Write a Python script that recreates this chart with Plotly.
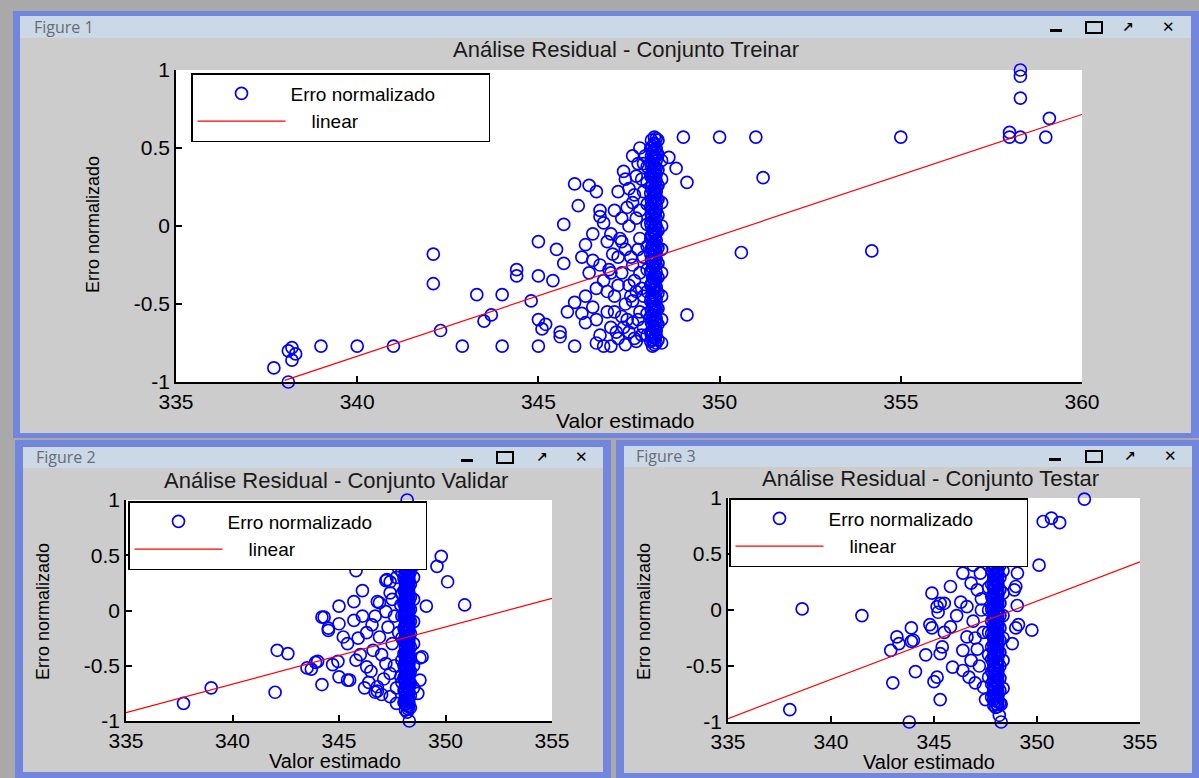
import plotly.graph_objects as go

W, H = 1199, 778

# ------------------------------------------------------------------ data
# Figure 1 - Conjunto Treinar
treinar_outer_x = [338.1, 337.7, 338.2, 338.1, 338.2, 338.3, 339.0, 340.0, 341.0, 342.1,
                   342.1, 342.3, 342.9, 343.3, 343.7, 343.5, 344.0, 344.0, 344.4, 344.4,
                   344.8, 345.0, 345.5, 345.7, 345.0, 345.4, 345.0, 345.1, 345.2, 345.0,
                   345.6, 345.6, 346.0, 345.8, 346.0, 346.0, 346.4, 346.6, 346.1, 345.7,
                   346.7, 346.7, 346.3, 348.2, 349.0, 350.0, 351.0, 348.8, 349.1, 348.6,
                   351.2, 350.6, 354.2, 355.0, 358.3, 358.3, 358.3, 359.1, 358.0, 358.0,
                   358.3, 359.0, 349.1, 347.0]
treinar_outer_y = [-1.00, -0.91, -0.78, -0.80, -0.86, -0.82, -0.77, -0.77, -0.77, -0.18,
                   -0.37, -0.67, -0.77, -0.44, -0.57, -0.61, -0.44, -0.77, -0.28, -0.32,
                   -0.48, -0.10, -0.15, -0.24, -0.32, -0.35, -0.60, -0.66, -0.63, -0.77,
                   -0.71, -0.68, -0.77, -0.55, -0.49, 0.27, 0.26, 0.22, 0.13, 0.01,
                   0.10, 0.06, -0.12, 0.57, 0.57, 0.57, 0.57, 0.37, 0.28, 0.44,
                   0.31, -0.17, -0.16, 0.57, 1.00, 0.96, 0.82, 0.69, 0.60, 0.57,
                   0.57, 0.57, -0.57, -0.77]
treinar_cluster_x = [346.3, 346.5, 346.6, 346.4, 346.7, 346.8, 346.6, 346.9, 346.7, 347.0,
                     346.9, 347.0, 346.8, 347.1, 347.2, 347.3, 347.1, 347.3, 347.2, 347.4,
                     347.5, 347.4, 347.5, 347.4, 347.5, 347.6, 347.5, 347.7, 347.6, 347.7,
                     347.6, 347.7, 347.8, 347.8, 347.8, 347.8, 347.9, 347.9, 347.9, 347.9,
                     347.9, 346.2, 346.5, 346.5, 346.3, 346.2, 346.8, 347.0, 347.2, 347.3,
                     347.6, 347.8, 347.3, 347.1, 346.9, 347.4, 347.6, 347.7, 347.2, 346.6,
                     347.45, 347.55, 347.65, 347.75, 347.85, 347.85, 347.65, 347.75, 347.55, 347.35,
                     347.25, 347.45, 347.85, 347.95, 347.05, 346.95, 347.15, 347.65, 347.35, 347.75]
treinar_cluster_y = [-0.45, -0.52, -0.40, -0.30, -0.25, -0.35, -0.60, -0.55, -0.70, -0.65,
                     -0.10, -0.05, 0.02, 0.10, -0.20, -0.30, -0.45, -0.58, -0.72, -0.76,
                     -0.68, -0.50, -0.38, -0.15, 0.00, 0.15, 0.24, 0.32, -0.25, -0.42,
                     -0.62, -0.74, -0.55, -0.30, -0.08, 0.10, 0.22, 0.40, -0.65, -0.20,
                     -0.45, -0.20, -0.05, -0.22, -0.62, -0.56, -0.77, -0.30, 0.22, 0.05,
                     0.45, 0.50, -0.10, -0.55, -0.42, 0.30, -0.48, 0.05, -0.38, -0.75,
                     -0.60, -0.20, -0.35, -0.60, -0.70, -0.40, 0.20, 0.40, -0.45, -0.65,
                     -0.08, 0.12, 0.30, 0.45, -0.18, -0.28, -0.68, -0.72, 0.35, -0.15]
treinar_column_x = [348.0, 348.1, 348.12, 348.15, 348.2, 348.22, 348.25, 348.3, 348.4]
treinar_column_y = [
    [-0.70, -0.56, -0.42, -0.28, -0.13, 0.01, 0.14, 0.28, 0.38],
    [-0.74, -0.68, -0.58, -0.48, -0.38, -0.29, -0.18, -0.08, 0.02, 0.12, 0.21, 0.32, 0.41, 0.50],
    [-0.70, -0.62, -0.54, -0.46, -0.37, -0.30, -0.22, -0.14, -0.06, 0.00, 0.07, 0.16, 0.25,
     0.33, 0.38, 0.45, 0.55],
    [-0.77, -0.73, -0.69, -0.64, -0.60, -0.57, -0.52, -0.49, -0.44, -0.41, -0.36, -0.33, -0.27,
     -0.24, -0.19, -0.15, -0.12, -0.06, -0.03, 0.03, 0.06, 0.11, 0.14, 0.18, 0.23, 0.27, 0.31,
     0.35, 0.40, 0.43, 0.47, 0.51],
    [-0.76, -0.71, -0.65, -0.61, -0.55, -0.50, -0.46, -0.40, -0.35, -0.31, -0.26, -0.20, -0.16, -0.11,
     -0.05, -0.01, 0.04, 0.09, 0.15, 0.19, 0.24, 0.30, 0.34, 0.39, 0.45, 0.49, 0.53],
    [-0.72, -0.66, -0.60, -0.53, -0.45, -0.38, -0.32, -0.23, -0.15, -0.07, 0.01, 0.08, 0.16,
     0.21, 0.28, 0.36, 0.44, 0.52],
    [-0.75, -0.70, -0.67, -0.62, -0.59, -0.54, -0.51, -0.47, -0.42, -0.39, -0.34, -0.30, -0.25,
     -0.21, -0.17, -0.13, -0.09, -0.04, 0.00, 0.05, 0.10, 0.13, 0.17, 0.22, 0.25, 0.29, 0.33,
     0.37, 0.42, 0.47, 0.50, 0.56],
    [-0.73, -0.63, -0.53, -0.43, -0.33, -0.24, -0.14, -0.03, 0.07, 0.17, 0.26, 0.36, 0.46, 0.55],
    [-0.75, -0.60, -0.45, -0.30, -0.15, 0.00, 0.15, 0.30, 0.42],
]
treinar_fit_x = [338.0, 360.0]
treinar_fit_y = [-0.99, 0.715]

# Figure 2 - Conjunto Validar
validar_outer_x = [337.7, 339.0, 342.1, 342.6, 342.0, 343.7, 344.0, 344.2, 344.3, 344.5,
                   344.2, 345.0, 345.7, 345.8, 346.1, 345.0, 345.0, 345.5, 346.2, 346.8,
                   346.9, 347.2, 348.2, 348.3, 349.8, 349.6, 350.1, 350.9, 349.1, 348.6,
                   348.8, 348.9, 348.8, 348.7]
validar_outer_y = [-0.84, -0.70, -0.36, -0.39, -0.74, -0.53, -0.46, -0.06, -0.06, -0.18,
                   -0.67, 0.04, 0.08, 0.36, 0.18, -0.12, -0.60, -0.63, -0.70, -0.73,
                   0.07, 0.27, 1.00, -1.00, 0.49, 0.40, 0.26, 0.05, 0.04, 0.42,
                   -0.43, -0.42, -0.63, -0.75]
validar_cluster_x = [344.5, 345.7, 345.2, 345.9, 345.4, 343.9, 343.5, 344.7, 344.95, 345.4,
                     346.7, 346.8, 346.3, 346.6, 346.9, 346.8, 347.25, 347.4, 347.4, 346.55,
                     347.2, 347.2, 347.4, 347.4, 347.7, 346.0, 346.3, 346.5, 346.7, 347.0,
                     347.1, 347.3, 347.5, 347.6, 347.5, 347.6, 347.7, 347.7, 347.8, 347.8,
                     347.9, 347.9, 346.1, 345.8, 346.4, 347.0]
validar_cluster_y = [-0.16, -0.09, -0.24, -0.25, -0.30, -0.47, -0.52, -0.49, -0.46, -0.63,
                     -0.74, -0.69, -0.51, -0.36, -0.24, 0.08, 0.28, 0.26, 0.16, -0.13,
                     -0.01, -0.48, -0.57, -0.78, -0.84, -0.40, -0.20, -0.55, -0.05, -0.40,
                     -0.62, -0.15, -0.30, -0.05, 0.10, -0.50, -0.70, 0.30, 0.38, -0.20,
                     -0.60, 0.05, -0.05, -0.45, -0.65, -0.76]
validar_column_x = [347.95, 348.05, 348.12, 348.16, 348.2, 348.24, 348.28, 348.35, 348.5]
validar_column_y = [
    [-0.65, -0.45, -0.25, -0.05, 0.15, 0.35],
    [-0.83, -0.72, -0.61, -0.50, -0.39, -0.27, -0.16, -0.05, 0.06, 0.18, 0.29, 0.40],
    [-0.90, -0.85, -0.81, -0.77, -0.72, -0.68, -0.64, -0.59, -0.55, -0.51, -0.46, -0.42, -0.38,
     -0.33, -0.29, -0.25, -0.20, -0.16, -0.12, -0.07, -0.03, 0.01, 0.06, 0.10, 0.14, 0.19, 0.23,
     0.27, 0.31, 0.36, 0.40, 0.44],
    [-0.84, -0.76, -0.68, -0.60, -0.53, -0.45, -0.37, -0.28, -0.21, -0.12, -0.04, 0.05, 0.12,
     0.20, 0.28, 0.35, 0.41],
    [-0.92, -0.86, -0.80, -0.75, -0.69, -0.63, -0.58, -0.52, -0.47, -0.41, -0.35, -0.30, -0.24,
     -0.18, -0.13, -0.07, -0.02, 0.04, 0.10, 0.15, 0.21, 0.26, 0.32, 0.37, 0.43],
    [-0.89, -0.81, -0.71, -0.64, -0.56, -0.48, -0.40, -0.32, -0.26, -0.17, -0.09, 0.00, 0.07,
     0.13, 0.22, 0.30, 0.39, 0.45],
    [-0.87, -0.83, -0.79, -0.74, -0.70, -0.66, -0.62, -0.57, -0.53, -0.49, -0.44, -0.40, -0.36,
     -0.31, -0.27, -0.23, -0.18, -0.14, -0.10, -0.05, -0.01, 0.03, 0.08, 0.12, 0.16, 0.21, 0.25,
     0.29, 0.33, 0.38, 0.42],
    [-0.88, -0.77, -0.66, -0.55, -0.44, -0.33, -0.21, -0.10, 0.01, 0.12, 0.24, 0.35, 0.45],
    [-0.70, -0.50, -0.30, -0.10, 0.10, 0.30],
]
validar_fit_x = [335.0, 355.0]
validar_fit_y = [-0.925, 0.11]

# Figure 3 - Conjunto Testar
testar_outer_x = [338.0, 338.6, 341.5, 342.9, 343.2, 343.3, 343.9, 343.9, 343.0, 343.8,
                  344.1, 344.6, 344.9, 344.9, 345.8, 346.4, 345.0, 345.15, 345.3, 345.15,
                  345.3, 345.3, 345.4, 352.3, 350.7, 350.3, 351.1, 350.1, 349.75, 349.1,
                  348.9, 348.8, 348.26, 348.17, 348.26]
testar_outer_y = [-0.89, 0.01, -0.05, -0.36, -0.24, -0.30, -0.28, -0.16, -0.65, -1.00,
                  -0.55, -0.40, -0.16, 0.15, 0.21, 0.33, -0.64, -0.60, -0.80, 0.03,
                  0.06, -0.39, -0.33, 0.99, 0.82, 0.79, 0.78, 0.40, -0.18, -0.13,
                  0.18, -0.30, -1.00, -0.94, -0.84]
testar_cluster_x = [346.8, 345.5, 346.3, 346.6, 345.2, 346.1, 344.8, 345.8, 344.0, 346.4,
                    345.5, 346.6, 345.9, 346.4, 347.0, 347.4, 348.97, 349.04, 348.97, 349.05,
                    347.25, 347.1, 346.9, 347.1, 347.2, 347.3, 347.4, 346.8, 347.5, 347.5,
                    346.9, 347.3, 346.7, 347.0]
testar_cluster_y = [0.24, 0.06, 0.07, 0.03, -0.02, -0.05, -0.13, -0.15, -0.27, -0.36,
                    -0.20, -0.24, -0.51, -0.54, -0.65, -0.69, -0.16, 0.04, 0.21, 0.33,
                    0.33, 0.18, -0.10, -0.35, -0.50, 0.00, -0.20, -0.45, 0.45, -0.80,
                    0.40, 0.10, -0.60, -0.25]
testar_column_x = [347.65, 347.8, 347.9, 347.95, 348.0, 348.05, 348.1, 348.2, 348.35]
testar_column_y = [
    [-0.60, -0.40, -0.20, 0.00, 0.20, 0.40],
    [-0.78, -0.66, -0.55, -0.44, -0.33, -0.21, -0.10, 0.01, 0.12, 0.23, 0.35, 0.46, 0.55],
    [-0.85, -0.80, -0.76, -0.71, -0.67, -0.62, -0.58, -0.53, -0.49, -0.44, -0.40, -0.35, -0.31,
     -0.26, -0.22, -0.17, -0.13, -0.08, -0.04, 0.01, 0.05, 0.10, 0.14, 0.19, 0.23, 0.28, 0.32,
     0.37, 0.41, 0.46, 0.50, 0.55],
    [-0.79, -0.69, -0.60, -0.51, -0.42, -0.33, -0.24, -0.15, -0.06, 0.03, 0.12, 0.21, 0.30,
     0.39, 0.48],
    [-0.87, -0.81, -0.75, -0.70, -0.64, -0.58, -0.53, -0.47, -0.41, -0.36, -0.30, -0.24, -0.19,
     -0.13, -0.07, -0.02, 0.04, 0.10, 0.15, 0.21, 0.27, 0.32, 0.38, 0.44, 0.49, 0.55],
    [-0.84, -0.75, -0.66, -0.57, -0.48, -0.39, -0.29, -0.21, -0.11, -0.03, 0.06, 0.15, 0.24,
     0.34, 0.43, 0.52],
    [-0.86, -0.82, -0.77, -0.73, -0.68, -0.64, -0.59, -0.55, -0.50, -0.46, -0.41, -0.37, -0.32,
     -0.28, -0.23, -0.19, -0.14, -0.10, -0.05, -0.01, 0.04, 0.08, 0.13, 0.17, 0.22, 0.26, 0.31,
     0.35, 0.40, 0.44, 0.49, 0.53],
    [-0.83, -0.72, -0.61, -0.50, -0.38, -0.27, -0.16, -0.05, 0.06, 0.18, 0.29, 0.40, 0.52],
    [-0.70, -0.45, -0.25, -0.05, 0.15, 0.35, 0.50],
]
testar_fit_x = [335.0, 355.0]
testar_fit_y = [-0.97, 0.43]

# ticks and texts
x_ticks_treinar = [335, 340, 345, 350, 355, 360]
x_ticks_small = [335, 340, 345, 350, 355]
y_ticks = [-1, -0.5, 0, 0.5, 1]
y_tick_text = ["-1", "-0.5", "0", "0.5", "1"]
window_names = ["Figure 1", "Figure 2", "Figure 3"]
plot_titles = ["Análise Residual - Conjunto Treinar",
               "Análise Residual - Conjunto Validar",
               "Análise Residual - Conjunto Testar"]
x_title = "Valor estimado"
y_title = "Erro normalizado"
legend_names = ["Erro normalizado", "linear"]

NB = "\u00a0"


def merge(outer_x, outer_y, clus_x, clus_y, col_x, col_y):
    xs = list(outer_x) + list(clus_x)
    ys = list(outer_y) + list(clus_y)
    for cx, cys in zip(col_x, col_y):
        for cy in cys:
            xs.append(cx)
            ys.append(cy)
    return xs, ys


sets = [
    merge(treinar_outer_x, treinar_outer_y, treinar_cluster_x, treinar_cluster_y,
          treinar_column_x, treinar_column_y) + (treinar_fit_x, treinar_fit_y, x_ticks_treinar),
    merge(validar_outer_x, validar_outer_y, validar_cluster_x, validar_cluster_y,
          validar_column_x, validar_column_y) + (validar_fit_x, validar_fit_y, x_ticks_small),
    merge(testar_outer_x, testar_outer_y, testar_cluster_x, testar_cluster_y,
          testar_column_x, testar_column_y) + (testar_fit_x, testar_fit_y, x_ticks_small),
]

# ------------------------------------------------------------------ geometry (pixels)
def px(x):
    return x / W


def py(y):
    return 1 - y / H


panels = [
    dict(plot=(176, 70, 1082, 382), frame=(13, 11, 1199, 438), bar=(20, 16, 1191, 38),
         content=(20, 38, 1191, 433), legend=(191, 73), fig_label=(32, 27),
         title=(626, 50), xlab=(625, 421), ylab=(93, 225),
         btn_y=27, btn_x=(1056, 1094, 1128, 1168)),
    dict(plot=(126, 500, 552, 721), frame=(15, 440, 611, 778), bar=(23, 447, 603, 468),
         content=(23, 468, 603, 772), legend=(128, 501), fig_label=(34, 457),
         title=(336, 480), xlab=(335, 761), ylab=(43, 612),
         btn_y=457, btn_x=(467, 505, 542, 581)),
    dict(plot=(728, 498, 1140, 722), frame=(616, 440, 1199, 778), bar=(624, 446, 1192, 467),
         content=(624, 467, 1192, 773), legend=(729, 498), fig_label=(634, 456),
         title=(930, 478), xlab=(929, 762), ylab=(644, 612),
         btn_y=456, btn_x=(1055, 1094, 1130, 1170)),
]

FONT = "Liberation Sans, Arial, Helvetica, sans-serif"
BLUE = "#0000ff"
RED = "#ff0000"

fig = go.Figure()
shapes = []
annotations = []
layout = dict(width=W, height=H, autosize=False,
              margin=dict(l=0, r=0, t=0, b=0, pad=0, autoexpand=False),
              paper_bgcolor="#a9a9a9", plot_bgcolor="#ffffff",
              showlegend=True, hovermode=False)


def ann(x, y, text, font, **kw):
    d = dict(x=px(x), y=py(y), xref="paper", yref="paper", text=text,
             showarrow=False, xanchor="center", yanchor="middle", font=font)
    d.update(kw)
    annotations.append(d)


for i, (p, s) in enumerate(zip(panels, sets)):
    xs, ys, fx, fy, xt = s
    n = "" if i == 0 else str(i + 1)
    leg = "legend" if i == 0 else f"legend{i + 1}"
    fig.add_trace(go.Scatter(
        x=xs, y=ys, mode="markers", name=legend_names[0] + NB * 9,
        xaxis="x" + n, yaxis="y" + n, legend=leg, cliponaxis=False,
        marker=dict(symbol="circle-open", size=12, color=BLUE,
                    line=dict(color=BLUE, width=1.7))))
    fig.add_trace(go.Scatter(
        x=fx, y=fy, mode="lines", name=NB * 4 + legend_names[1],
        xaxis="x" + n, yaxis="y" + n, legend=leg,
        line=dict(color=RED, width=1.2)))

    x0, y0, x1, y1 = p["plot"]
    axis_common = dict(showline=True, linecolor="black", linewidth=1.5,
                       ticks="inside", ticklen=6, tickwidth=1.5, tickcolor="black",
                       showgrid=False, zeroline=False, fixedrange=True, automargin=False,
                       tickfont=dict(family=FONT, size=21, color="black"))
    layout["xaxis" + n] = dict(domain=[px(x0), px(x1)], range=[xt[0], xt[-1]],
                               tickmode="array", tickvals=xt,
                               ticktext=[str(v) for v in xt],
                               anchor="y" + n, **axis_common)
    layout["yaxis" + n] = dict(domain=[py(y1), py(y0)], range=[-1, 1],
                               tickmode="array", tickvals=y_ticks, ticktext=y_tick_text,
                               anchor="x" + n, **axis_common)
    lx, ly = p["legend"]
    layout[leg] = dict(x=px(lx), y=py(ly), xanchor="left", yanchor="top",
                       bgcolor="white", bordercolor="black", borderwidth=1.5,
                       font=dict(family=FONT, size=19, color="black"),
                       itemwidth=88, tracegroupgap=0, itemclick=False,
                       itemdoubleclick=False)

    # window chrome
    for key, col in (("frame", "#7386de"), ("bar", "#cbd9e7"), ("content", "#cccccc")):
        a, b, c, d = p[key]
        shapes.append(dict(type="rect", xref="paper", yref="paper", layer="below",
                           x0=px(a), x1=px(c), y0=py(d), y1=py(b),
                           fillcolor=col, line=dict(width=0)))
    # white axes background (drawn in the subplot layer, above the window content)
    shapes.append(dict(type="rect", xref="x" + n + " domain", yref="y" + n + " domain",
                       layer="below", x0=0, x1=1, y0=0, y1=1,
                       fillcolor="#ffffff", line=dict(width=0)))
    bx = p["btn_x"]
    by = p["btn_y"]
    shapes.append(dict(type="rect", xref="paper", yref="paper", layer="above",
                       x0=px(bx[0] - 6), x1=px(bx[0] + 6), y0=py(by + 5), y1=py(by + 2),
                       fillcolor="black", line=dict(width=0)))
    shapes.append(dict(type="rect", xref="paper", yref="paper", layer="above",
                       x0=px(bx[1] - 8), x1=px(bx[1] + 8), y0=py(by + 6), y1=py(by - 5),
                       fillcolor="rgba(0,0,0,0)", line=dict(color="black", width=2)))
    ann(bx[2], by, "<b>↗</b>", dict(family="DejaVu Sans", size=14, color="black"))
    ann(bx[3], by, "<b>✕</b>", dict(family="DejaVu Sans", size=15, color="black"))
    fx_, fy_ = p["fig_label"]
    ann(fx_, fy_, window_names[i], dict(family="Open Sans, Noto Sans", size=16, color="#6a6a78"),
        xanchor="left")
    tx, ty = p["title"]
    ann(tx, ty, plot_titles[i], dict(family=FONT, size=22, color="#1a1a1a"))
    xx, xy = p["xlab"]
    ann(xx, xy, x_title, dict(family=FONT, size=21 if i == 0 else 20, color="black"))
    yx, yy = p["ylab"]
    ann(yx, yy, y_title, dict(family=FONT, size=18, color="black"), textangle=-90)

layout["shapes"] = shapes
layout["annotations"] = annotations
fig.update_layout(**layout)

fig.write_html("out.html", config={"displayModeBar": False},
               post_script="document.body.style.margin='0px';"
                           "document.body.style.overflow='hidden';")
